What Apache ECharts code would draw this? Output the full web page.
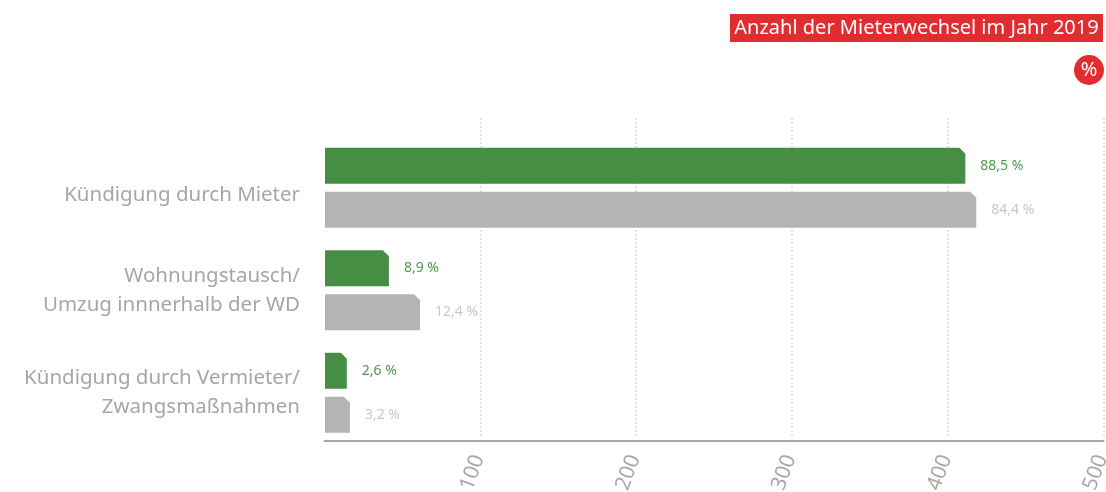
<!DOCTYPE html>
<html><head><meta charset="utf-8">
<style>html,body{margin:0;padding:0;background:#fff}#c{width:1106px;height:492px}</style>
<script src="https://cdn.jsdelivr.net/npm/echarts@6/dist/echarts.min.js"></script>
</head><body><div id="c"></div>
<script>
const categories = ['Kündigung durch Mieter', 'Wohnungstausch/\nUmzug innnerhalb der WD', 'Kündigung durch Vermieter/\nZwangsmaßnahmen'];
const values2019 = [411, 41, 14];
const valuesPrev = [418, 61, 16];
const labels2019 = ['88,5 %', '8,9 %', '2,6 %'];
const labelsPrev = ['84,4 %', '12,4 %', '3,2 %'];
const ticks = [100, 200, 300, 400, 500];
const titleText = 'Anzahl der Mieterwechsel im Jahr 2019';
const FONT = '"Noto Sans"';
const chart = echarts.init(document.getElementById('c'), null, {renderer: 'canvas'});
function bars(values, labels, color, labelColor, off) {
  return {
    type: 'custom', xAxisIndex: 0, yAxisIndex: 0, silent: true, clip: false,
    data: values.map((v, i) => [v, i]),
    encode: {x: 0, y: 1},
    renderItem(params, api) {
      const i = api.value(1);
      const p = api.coord([api.value(0), i]);
      const x0 = api.coord([0, i])[0];
      const h = 36, t = p[1] + off, c = 6;
      return {type: 'group', children: [
        {type: 'polygon', shape: {points: [[x0, t], [p[0] - c, t], [p[0], t + c], [p[0], t + h], [x0, t + h]]}, style: {fill: color}},
        {type: 'text', x: p[0] + 15, y: t + h / 2, style: {text: labels[i], fill: labelColor, font: '14px ' + FONT, textAlign: 'left', textVerticalAlign: 'middle'}}
      ]};
    }
  };
}
chart.setOption({
  animation: false,
  backgroundColor: '#fff',
  grid: [
    {left: 325, width: 779, top: 136.5, height: 307.5, outerBoundsMode: 'none'},
    {left: 324.5, width: 779, top: 118, height: 318, outerBoundsMode: 'none'}
  ],
  xAxis: [
    {gridIndex: 0, type: 'value', min: 0, max: 500, show: false},
    {gridIndex: 1, type: 'value', min: 0, max: 500, interval: 100, offset: 5, position: 'bottom',
     axisLine: {show: true, onZero: false, lineStyle: {color: '#a8a8a6', width: 2}}, axisTick: {show: false},
     splitLine: {show: true, showMinLine: false, lineStyle: {type: [2, 2], color: '#dadada', width: 1.5}},
     axisLabel: {rotate: 70, color: '#a8a8a6', fontFamily: FONT, fontSize: 21, margin: 10, padding: [0, 5, 6, 0], showMinLabel: false,
       formatter: v => ticks.includes(v) ? String(v) : ''}}
  ],
  yAxis: [
    {gridIndex: 0, type: 'category', inverse: true, data: categories,
     axisLine: {show: false}, axisTick: {show: false},
     axisLabel: {color: '#a6a6a4', fontFamily: FONT, fontSize: 20.5, lineHeight: 29, align: 'right', margin: 25,
       formatter: (v, i) => i === 0 ? '{low|' + v + '}' : v,
       rich: {low: {color: '#a6a6a4', fontFamily: FONT, fontSize: 20.5, lineHeight: 29, padding: [14, 0, 0, 0]}}}},
    {gridIndex: 1, type: 'value', show: false, min: 0, max: 1}
  ],
  series: [
    bars(values2019, labels2019, '#468e44', '#4e9a4c', -40),
    bars(valuesPrev, labelsPrev, '#b4b4b2', '#c8c8c6', 4)
  ],
  graphic: [
    {type: 'rect', shape: {x: 730, y: 14, width: 373, height: 28}, style: {fill: '#e22d30'}},
    {type: 'text', x: 916.5, y: 28, style: {text: titleText, fill: '#fff', font: '20px ' + FONT, textAlign: 'center', textVerticalAlign: 'middle'}},
    {type: 'circle', shape: {cx: 1089, cy: 70, r: 15}, style: {fill: '#e22d30'}},
    {type: 'text', x: 1089, y: 70, style: {text: '%', fill: '#fff', font: '20px ' + FONT, textAlign: 'center', textVerticalAlign: 'middle'}}
  ]
});
</script></body></html>
